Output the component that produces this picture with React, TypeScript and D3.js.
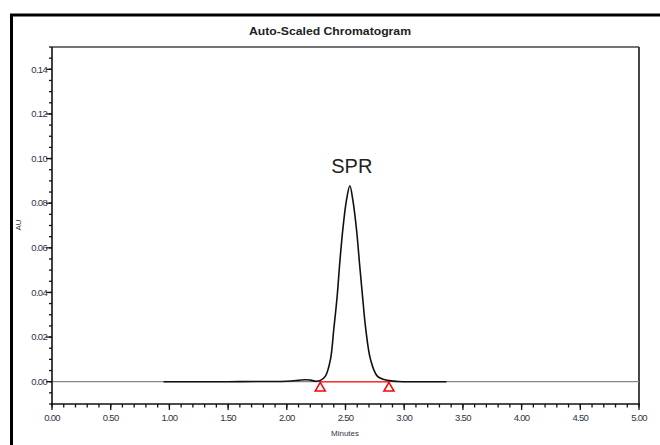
import { useEffect, useRef } from "react";
import * as d3 from "d3";

// trace: minutes / AU
const traceTime = [0.95, 1.2, 1.5, 1.8, 2.0, 2.1, 2.16, 2.2, 2.25, 2.287, 2.329, 2.372, 2.4, 2.429, 2.451, 2.477, 2.509, 2.537, 2.562, 2.594, 2.619, 2.645, 2.673, 2.713, 2.771, 2.856, 2.95, 3.1, 3.36];
const traceAU = [0, 0, 0, 0.0001, 0.0002, 0.0006, 0.0009, 0.0007, 0.0002, 0.0006, 0.0025, 0.01, 0.0234, 0.0383, 0.0532, 0.0681, 0.0816, 0.0878, 0.0816, 0.0681, 0.0532, 0.0383, 0.0234, 0.01, 0.0025, 0.0006, 0.0001, 0, 0];

const peakName = "SPR";
const peakStart = 2.285;
const peakEnd = 2.87;

const xTickLabels = ["0.00", "0.50", "1.00", "1.50", "2.00", "2.50", "3.00", "3.50", "4.00", "4.50", "5.00"];
const yTickLabels = ["0.00", "0.02", "0.04", "0.06", "0.08", "0.10", "0.12", "0.14"];

export default function App() {
    const svgRef = useRef(null);

    useEffect(() => {
        const svg = d3.select(svgRef.current);
        svg.selectAll("*").remove();

        const left = 52, right = 639, top = 47, bottom = 404;
        const x = d3.scaleLinear().domain([0, 5]).range([left, right]);
        const y = d3.scaleLinear().domain([-0.01, 0.15]).range([bottom, top]);
        const font = "'Liberation Sans', Arial, sans-serif";

        // outer frame
        svg.append("line").attr("x1", 10).attr("x2", 660).attr("y1", 15).attr("y2", 15)
            .attr("stroke", "#000").attr("stroke-width", 3);
        svg.append("line").attr("x1", 11.5).attr("x2", 11.5).attr("y1", 14).attr("y2", 445)
            .attr("stroke", "#000").attr("stroke-width", 3);

        svg.append("text").attr("x", 330).attr("y", 35).attr("text-anchor", "middle")
            .attr("font-family", font).attr("font-weight", "bold").attr("font-size", 11)
            .attr("textLength", 162).attr("lengthAdjust", "spacingAndGlyphs")
            .attr("fill", "#222").text("Auto-Scaled Chromatogram");

        // plot box
        svg.append("line").attr("x1", left).attr("x2", right).attr("y1", top).attr("y2", top)
            .attr("stroke", "#444").attr("stroke-width", 1.5);
        svg.append("line").attr("x1", right).attr("x2", right).attr("y1", top).attr("y2", bottom)
            .attr("stroke", "#333").attr("stroke-width", 1.8);

        // zero line
        svg.append("line").attr("x1", left).attr("x2", right).attr("y1", y(0)).attr("y2", y(0))
            .attr("stroke", "#888").attr("stroke-width", 1.3);

        // y axis
        const yMinor = d3.range(-10, 151, 5).map(v => v / 1000);
        svg.append("g").selectAll("line").data(yMinor).join("line")
            .attr("x1", left - 3).attr("x2", left).attr("y1", d => y(d)).attr("y2", d => y(d))
            .attr("stroke", "#111").attr("stroke-width", 1.3);
        svg.append("g").selectAll("line").data(yTickLabels).join("line")
            .attr("x1", left - 6).attr("x2", left).attr("y1", d => y(+d)).attr("y2", d => y(+d))
            .attr("stroke", "#111").attr("stroke-width", 1.3);
        svg.append("g").selectAll("text").data(yTickLabels).join("text")
            .attr("x", left - 5).attr("y", d => y(+d) + 3.2).attr("text-anchor", "end")
            .attr("font-family", font).attr("font-size", 9.5).attr("letter-spacing", -0.7)
            .attr("fill", "#334").text(d => d);
        svg.append("line").attr("x1", left).attr("x2", left).attr("y1", top).attr("y2", bottom + 1)
            .attr("stroke", "#111").attr("stroke-width", 1.6);

        // x axis
        const xMinor = d3.range(0, 51).map(v => v / 10);
        svg.append("g").selectAll("line").data(xMinor).join("line")
            .attr("x1", d => x(d)).attr("x2", d => x(d)).attr("y1", bottom).attr("y2", bottom + 3.5)
            .attr("stroke", "#111").attr("stroke-width", 1.3);
        svg.append("g").selectAll("line").data(xTickLabels).join("line")
            .attr("x1", d => x(+d)).attr("x2", d => x(+d)).attr("y1", bottom).attr("y2", bottom + 6)
            .attr("stroke", "#111").attr("stroke-width", 1.3);
        svg.append("g").selectAll("text").data(xTickLabels).join("text")
            .attr("x", d => x(+d)).attr("y", 421).attr("text-anchor", "middle")
            .attr("font-family", font).attr("font-size", 9.5).attr("letter-spacing", -0.7)
            .attr("fill", "#334").text(d => d);
        svg.append("line").attr("x1", left - 1).attr("x2", right + 1).attr("y1", bottom).attr("y2", bottom)
            .attr("stroke", "#111").attr("stroke-width", 1.6);

        svg.append("text").attr("x", 345).attr("y", 436).attr("text-anchor", "middle")
            .attr("font-family", font).attr("font-size", 8).attr("fill", "#334").text("Minutes");
        svg.append("text").attr("transform", `translate(21,225) rotate(-90)`).attr("text-anchor", "middle")
            .attr("font-family", font).attr("font-size", 8).attr("fill", "#334").text("AU");

        // integration baseline
        svg.append("line").attr("x1", x(peakStart)).attr("x2", x(peakEnd))
            .attr("y1", y(0)).attr("y2", y(0)).attr("stroke", "#f33").attr("stroke-width", 1.5);
        const tri = d3.symbol().type(d3.symbolTriangle).size(44);
        svg.append("g").selectAll("path").data([peakStart, peakEnd]).join("path")
            .attr("d", tri).attr("transform", d => `translate(${x(d)},${y(0) + 6.5})`)
            .attr("fill", "none").attr("stroke", "#f00").attr("stroke-width", 1.5);

        // trace
        const pts = traceTime.map((t, i) => [t, traceAU[i]] as [number, number]);
        const line = d3.line().x(d => x(d[0])).y(d => y(d[1])).curve(d3.curveCatmullRom.alpha(0.5));
        svg.append("path").datum(pts).attr("d", line).attr("fill", "none")
            .attr("stroke", "#111").attr("stroke-width", 1.6);

        const apex = pts[d3.maxIndex(traceAU)];
        svg.append("text").attr("x", x(apex[0]) + 2).attr("y", 173).attr("text-anchor", "middle")
            .attr("font-family", font).attr("font-size", 20).attr("fill", "#222").text(peakName);
    }, []);

    return (
        <svg ref={svgRef} width={660} height={445}
            style={{ position: "absolute", left: 0, top: 0, background: "#fff" }} />
    );
}
